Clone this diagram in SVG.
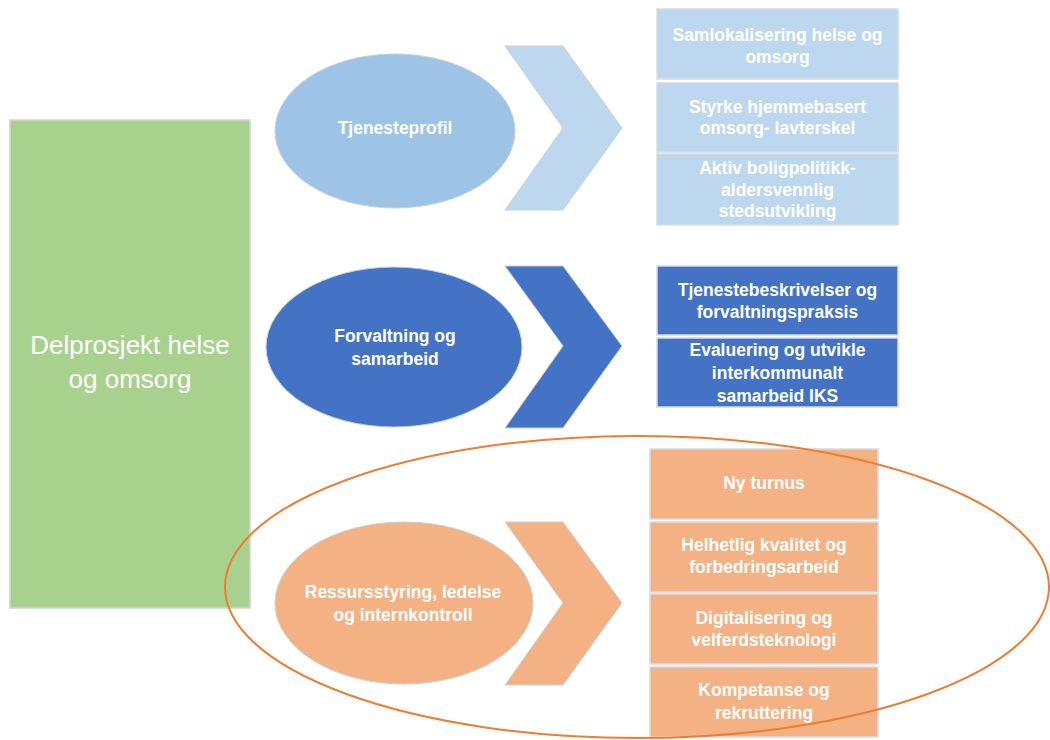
<svg xmlns="http://www.w3.org/2000/svg" width="1050" height="740" viewBox="0 0 1050 740">
<style>
.t{font-family:"Liberation Sans",Arial,sans-serif;font-weight:bold;font-size:17.5px;fill:#fff;text-anchor:middle}
.big{font-family:"Liberation Sans",Arial,sans-serif;font-size:26px;fill:#fff;text-anchor:middle}
.bx{stroke:#d6dce4;stroke-width:1.5}
.sh{stroke:#c9d0d8;stroke-width:1}
.lb{fill:#BDD7EE}
.db{fill:#4472C4}
.or{fill:#F4B183}
</style>
<rect width="1050" height="740" fill="#fff"/>
<g id="main">
<rect x="10" y="120" width="240" height="488" fill="#A9D18E" stroke="#cfd5cc" stroke-width="1.5"/>
<text class="big" x="130" y="354">Delprosjekt helse</text>
<text class="big" x="130" y="388">og omsorg</text>
</g>
<g id="tjenesteprofil">
<ellipse cx="395" cy="131" rx="120" ry="77" fill="#9DC3E6" class="sh"/>
<text class="t" x="395" y="134">Tjenesteprofil</text>
</g>
<g id="forvaltning">
<ellipse cx="394" cy="347" rx="128" ry="80" class="db sh"/>
<text class="t" x="395" y="342">Forvaltning og</text>
<text class="t" x="395" y="365">samarbeid</text>
</g>
<g id="ressurs">
<ellipse cx="404" cy="603" rx="129" ry="81" class="or sh"/>
<text class="t" x="403" y="598">Ressursstyring, ledelse</text>
<text class="t" x="403" y="621">og internkontroll</text>
</g>
<g id="connectors">
<polygon points="505,46 563,46 622,128 563,210 505,210 563,128" class="lb sh"/>
<polygon points="505,266 563,266 622,346 563,428 505,428 563,346" class="db sh"/>
<polygon points="505,522 563,522 622,603 563,685 505,685 563,603" class="or sh"/>
</g>
<g id="box-t1">
<rect x="657" y="9" width="241" height="70" class="lb bx"/>
<text class="t" x="777.5" y="41">Samlokalisering helse og</text>
<text class="t" x="777.5" y="63">omsorg</text>
</g>
<g id="box-t2">
<rect x="657" y="83" width="241" height="69" class="lb bx"/>
<text class="t" x="777.5" y="113">Styrke hjemmebasert</text>
<text class="t" x="777.5" y="134">omsorg- lavterskel</text>
</g>
<g id="box-t3">
<rect x="657" y="154" width="241" height="71" class="lb bx"/>
<text class="t" x="777.5" y="174">Aktiv boligpolitikk-</text>
<text class="t" x="777.5" y="196">aldersvennlig</text>
<text class="t" x="777.5" y="217">stedsutvikling</text>
</g>
<g id="box-f1">
<rect x="657" y="266" width="241" height="69" class="db bx"/>
<text class="t" x="777.5" y="296">Tjenestebeskrivelser og</text>
<text class="t" x="777.5" y="318">forvaltningspraksis</text>
</g>
<g id="box-f2">
<rect x="657" y="338" width="241" height="69" class="db bx"/>
<text class="t" x="777.5" y="356">Evaluering og utvikle</text>
<text class="t" x="777.5" y="379">interkommunalt</text>
<text class="t" x="777.5" y="402">samarbeid IKS</text>
</g>
<g id="box-r1">
<rect x="650" y="449" width="228" height="70" class="or bx"/>
<text class="t" x="764" y="489">Ny turnus</text>
</g>
<g id="box-r2">
<rect x="650" y="522" width="228" height="70" class="or bx"/>
<text class="t" x="764" y="551">Helhetlig kvalitet og</text>
<text class="t" x="764" y="573">forbedringsarbeid</text>
</g>
<g id="box-r3">
<rect x="650" y="594" width="228" height="70" class="or bx"/>
<text class="t" x="764" y="624">Digitalisering og</text>
<text class="t" x="764" y="646">velferdsteknologi</text>
</g>
<g id="box-r4">
<rect x="650" y="667" width="228" height="70" class="or bx"/>
<text class="t" x="764" y="696">Kompetanse og</text>
<text class="t" x="764" y="719">rekruttering</text>
</g>
<g id="highlight">
<ellipse cx="637" cy="587" rx="412" ry="151" fill="none" stroke="#ED7D31" stroke-width="2"/>
</g>
</svg>
